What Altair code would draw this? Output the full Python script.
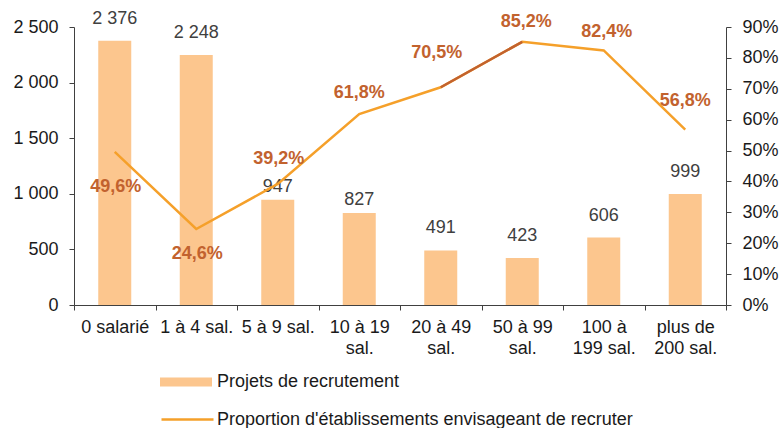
import altair as alt
import pandas as pd

# ---- data ----
categories = ["0 salarié", "1 à 4 sal.", "5 à 9 sal.", "10 à 19\nsal.", "20 à 49\nsal.",
              "50 à 99\nsal.", "100 à\n199 sal.", "plus de\n200 sal."]
projets = [2376, 2248, 947, 827, 491, 423, 606, 999]
proportion = [49.6, 24.6, 39.2, 61.8, 70.5, 85.2, 82.4, 56.8]
bar_series = "Projets de recrutement"
line_series = "Proportion d'établissements envisageant de recruter"


def fr_int(v):
    s = f"{v:,}".replace(",", " ")
    return s


df = pd.DataFrame({
    "idx": list(range(len(categories))),
    "cat": categories,
    "projets": projets,
    "prop": [p / 100 for p in proportion],
    "projets_lbl": [fr_int(v) for v in projets],
    "prop_lbl": [f"{p:.1f}%".replace(".", ",") for p in proportion],
    "serie_bar": bar_series,
    "serie_line": line_series,
})

# ---- styles ----
BAR = "#FCC68E"
ORANGE = "#F5A02A"
BROWN = "#C2622E"
AXIS = "#404040"
TXT = "#1a1a1a"
FONT = "Liberation Sans"

bar_label_dy = [-22, -22, -13, -13, -22, -22, -22, -22]
pct_label_off = [(1, 35), (1, 25), (1, -25), (0, -21), (-4, -34), (4, -20), (3, -18), (0, -29)]

x_enc = alt.X(
    "cat:N", sort=categories,
    scale=alt.Scale(paddingInner=0, paddingOuter=0),
    axis=alt.Axis(title=None, labelExpr="split(datum.label, '\\n')", tickBand="extent",
                  labelAngle=0, labelFontSize=18, labelLineHeight=21, labelPadding=8,
                  tickSize=5, labelOverlap=False, domainColor=AXIS, tickColor=AXIS,
                  labelColor=TXT, labelBaseline="top"),
)

left_axis = alt.Axis(title=None, values=[0, 500, 1000, 1500, 2000, 2500], grid=False,
                     labelExpr="datum.value >= 1000 ? floor(datum.value/1000) + ' ' + format(datum.value % 1000, '03d') : '' + datum.value",
                     labelFontSize=18, labelPadding=11, tickSize=5, domainColor=AXIS,
                     tickColor=AXIS, labelColor=TXT)
right_axis = alt.Axis(title=None, orient="right", values=[i / 10 for i in range(10)], format=".0%",
                      grid=False, labelFontSize=18, labelPadding=11, tickSize=5,
                      domainColor=AXIS, tickColor=AXIS, labelColor=TXT)

y_left = alt.Y("projets:Q", scale=alt.Scale(domain=[0, 2500], nice=False), axis=left_axis)
y_right = alt.Y("prop:Q", scale=alt.Scale(domain=[0, 0.9], nice=False), axis=right_axis)

base = alt.Chart(df)

bars = base.mark_bar(width=alt.RelativeBandSize(0.405)).encode(
    x=x_enc, y=y_left,
    fill=alt.Fill("serie_bar:N", scale=alt.Scale(range=[BAR]),
                  legend=alt.Legend(title=None, orient="none", legendX=86, legendY=329,
                                    symbolType="M-1,-0.173H1V0.173H-1Z", symbolSize=2704,
                                    symbolStrokeWidth=0, symbolOpacity=1, labelFontSize=18,
                                    labelColor=TXT, labelOffset=5, padding=0, labelLimit=700)),
)

bar_texts = []
for dy in sorted(set(bar_label_dy)):
    ids = [i for i, d in enumerate(bar_label_dy) if d == dy]
    bar_texts.append(
        base.mark_text(fontSize=18, color="#404040", baseline="middle", dy=dy).encode(
            x=x_enc, y=y_left, text="projets_lbl:N"
        ).transform_filter(alt.FieldOneOfPredicate(field="idx", oneOf=ids))
    )

line = base.mark_line(strokeWidth=2.5).encode(
    x=x_enc, y=y_right,
    stroke=alt.Stroke("serie_line:N", scale=alt.Scale(range=[ORANGE]),
                      legend=alt.Legend(title=None, orient="none", legendX=86, legendY=365,
                                        symbolType="stroke", symbolSize=2704,
                                        symbolStrokeWidth=2.5, labelFontSize=18,
                                        labelColor=TXT, labelOffset=2, padding=0, labelLimit=700)),
)

seg = base.mark_line(strokeWidth=2.5, color=BROWN).encode(
    x=x_enc, y=y_right
).transform_filter(alt.FieldOneOfPredicate(field="idx", oneOf=[4, 5]))

pct_texts = []
for i, (dx, dy) in enumerate(pct_label_off):
    pct_texts.append(
        base.mark_text(fontSize=18, fontWeight="bold", color=BROWN, baseline="middle",
                       dx=dx, dy=dy).encode(
            x=x_enc, y=y_right, text="prop_lbl:N"
        ).transform_filter(alt.FieldEqualPredicate(field="idx", equal=i))
    )

left = alt.layer(bars, *bar_texts)
right = alt.layer(line, seg, *pct_texts)

chart = alt.layer(left, right).resolve_scale(y="independent").properties(
    width=652, height=278,
    padding={"left": 74, "top": 27, "right": 54, "bottom": 123},
    autosize=alt.AutoSizeParams(type="none"),
).configure(font=FONT).configure_view(stroke=None)

chart.save("out.html", embed_options={"renderer": "svg", "actions": False})
